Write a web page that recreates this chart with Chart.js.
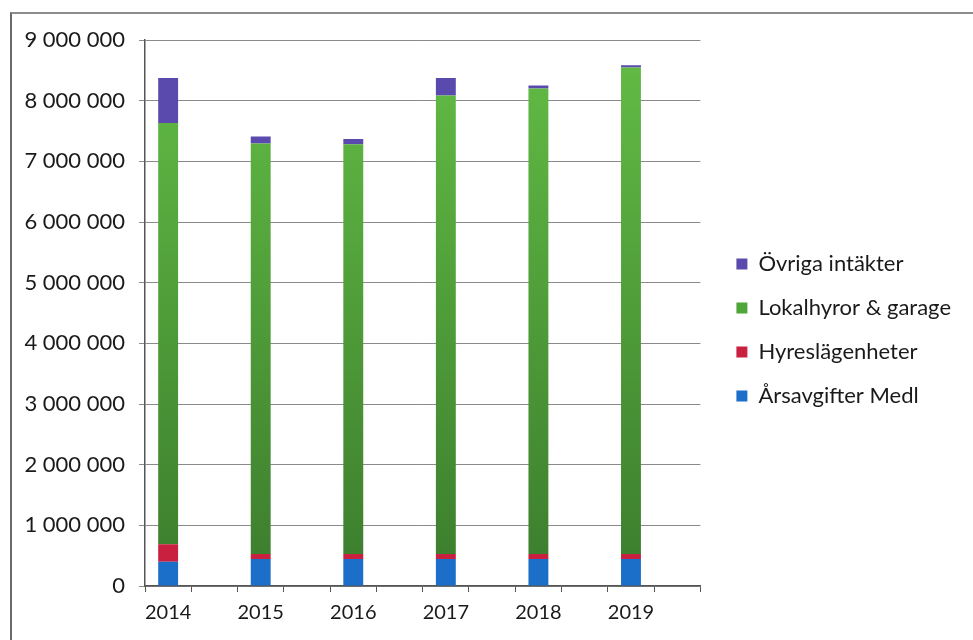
<!DOCTYPE html>
<html>
<head>
<meta charset="utf-8">
<script src="https://cdn.jsdelivr.net/npm/chart.js@4.4.1/dist/chart.umd.min.js"></script>
<style>
  html, body { margin: 0; padding: 0; background: #fff; }
  .frame {
    position: absolute; left: 10px; top: 12px; width: 963px; height: 628px;
    border-left: 2px solid #6a6a6a; border-top: 2px solid #8c8c8c; box-sizing: border-box;
  }
  canvas { display: block; }
</style>
</head>
<body>
<div class="frame"><canvas id="chart" width="961" height="626"></canvas></div>
<script>
const years = ['2014', '2015', '2016', '2017', '2018', '2019']
const arsavgifter = [398000, 444000, 444000, 444000, 444000, 444000]
const hyreslagenheter = [290000, 84000, 84000, 84000, 84000, 84000]
const lokalhyror = [6942000, 6767000, 6752000, 7557000, 7672000, 8017000]
const ovriga = [745000, 115000, 90000, 290000, 50000, 40000]
const yTicks = [0, 1000000, 2000000, 3000000, 4000000, 5000000, 6000000, 7000000, 8000000, 9000000]

// each year sits in the left half of a double-width slot, so pad with empty slots
function spread(arr, fill) {
  let out = []
  arr.forEach(v => { out.push(v); out.push(fill) })
  return out
}

const fontFamily = 'Lato, "Open Sans", sans-serif'

function greenFill(context) {
  const { chart } = context
  const area = chart.chartArea
  if (!area) return '#4f9e38'
  const g = chart.ctx.createLinearGradient(0, area.top, 0, area.bottom)
  g.addColorStop(0, '#63bd45')
  g.addColorStop(1, '#3b7c2d')
  return g
}

const data = {
  labels: spread(years, ''),
  datasets: [
    { label: 'Årsavgifter Medl', data: spread(arsavgifter, null), backgroundColor: '#1c6fc8' },
    { label: 'Hyreslägenheter', data: spread(hyreslagenheter, null), backgroundColor: '#c8203e' },
    { label: 'Lokalhyror & garage', data: spread(lokalhyror, null), backgroundColor: greenFill },
    { label: 'Övriga intäkter', data: spread(ovriga, null), backgroundColor: '#5a4aae' }
  ]
}

new Chart(document.getElementById('chart'), {
  type: 'bar',
  data,
  options: {
    responsive: false,
    animation: false,
    layout: { padding: { left: 0, top: 12, right: 12, bottom: 6 } },
    datasets: { bar: { categoryPercentage: 1, barPercentage: 0.43 } },
    plugins: {
      tooltip: { enabled: false },
      legend: {
        position: 'right',
        reverse: true,
        maxWidth: 320,
        labels: {
          boxWidth: 11,
          boxHeight: 11,
          padding: 22,
          color: '#1a1a1a',
          font: { family: fontFamily, size: 22 },
          generateLabels(chart) {
            const items = Chart.defaults.plugins.legend.labels.generateLabels(chart)
            items.forEach(it => {
              if (it.text === 'Lokalhyror & garage') it.fillStyle = '#4fa73a'
              it.lineWidth = 0
            })
            return items
          }
        }
      }
    },
    scales: {
      x: {
        stacked: true,
        grid: { drawOnChartArea: false, drawTicks: true, tickLength: 6, color: '#555', offset: true },
        border: { color: '#555', width: 1.5 },
        ticks: {
          autoSkip: false, maxRotation: 0, padding: 9,
          color: '#1a1a1a', font: { family: fontFamily, size: 20 }
        }
      },
      y: {
        stacked: true,
        min: 0,
        max: 9000000,
        afterBuildTicks(scale) { scale.ticks = yTicks.map(v => ({ value: v })) },
        afterFit(scale) {
          scale.width = 133
          scale.paddingTop = 26
        },
        grid: { color: '#8a8a8a', lineWidth: 1, tickLength: 6 },
        border: { color: '#555', width: 1.5 },
        ticks: {
          padding: 14,
          color: '#1a1a1a',
          font: { family: fontFamily, size: 22 },
          callback: v => String(v).replace(/\B(?=(\d{3})+(?!\d))/g, ' ')
        }
      },
      // empty spacer between the plot and the legend
      gap: {
        position: 'right',
        display: true,
        grid: { display: false },
        border: { display: false },
        ticks: { display: false },
        afterFit(scale) { scale.width = 14 }
      }
    }
  }
})
</script>
</body>
</html>
